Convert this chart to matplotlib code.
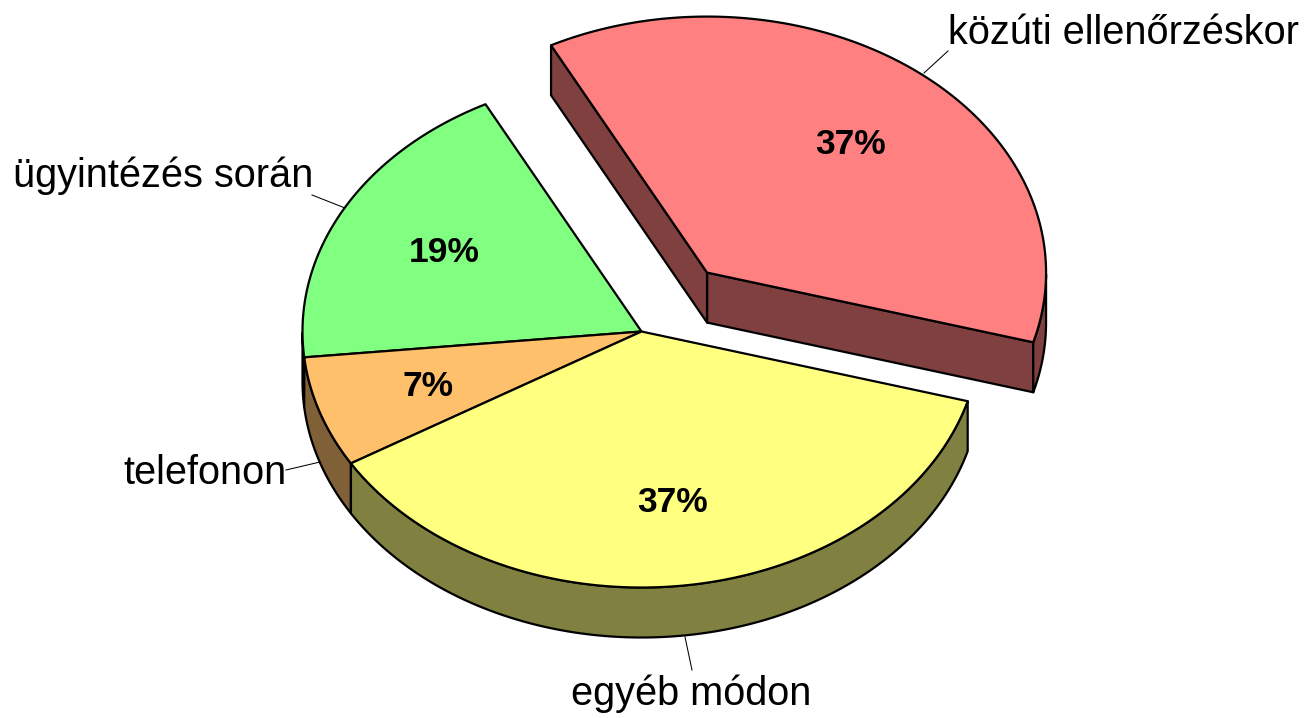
"""
Exploded 3D-look pie chart, drawn as projected polygons
"""
import matplotlib
matplotlib.use("Agg")
import matplotlib.pyplot as plt
import numpy as np

plt.rcParams['font.family'] = ['Liberation Sans', 'DejaVu Sans']

# Data
labels = ['ügyintézés során', 'telefonon', 'egyéb módon', 'közúti ellenőrzéskor']
values = [19, 7, 37, 37]
exploded = [False, False, False, True]
top_colors = ['#80FF80', '#FFC06C', '#FFFF80', '#FF8080']
side_colors = ['#408040', '#806036', '#808040', '#804040']

# Geometry of the pie in pixels
cx, cy = 641.5, 331.5
rx, ry = 339, 256
depth = 50
start = 117.4
explode_x, explode_y = 0.306, 0.297

# label text, percent text and leader line positions (pixels)
label_pos = [(163.5, 176), (205, 473), (691.5, 694), (1123, 33)]
pct_pos = [(444, 253), (428, 387), (672, 503), (851, 144)]
leaders = [((312, 195), (345, 208)), ((286, 470), (320, 462)),
           ((685, 637), (692, 670)), ((924, 73), (948, 51))]

fig = plt.figure(figsize=(13.06, 7.18), dpi=100)
ax = fig.add_axes([0, 0, 1, 1])
ax.set_xlim(0, 1306)
ax.set_ylim(718, 0)
ax.axis('off')


def pt(t, ox, oy):
    return cx + ox + rx * np.cos(t), cy + oy - ry * np.sin(t)


def poly(xs, ys, color, z):
    ax.fill(xs, ys, facecolor=color, edgecolor='black', lw=1.6,
            joinstyle='round', zorder=z)


angle = start
for i, v in enumerate(values):
    sweep = v / sum(values) * 360
    t0, t1 = np.radians(angle), np.radians(angle + sweep)
    mid = (t0 + t1) / 2
    ox, oy = 0, 0
    if exploded[i]:
        ox = explode_x * rx * np.cos(mid)
        oy = -explode_y * ry * np.sin(mid)
    tt = np.linspace(t0, t1, 200)
    ax_x, ax_y = pt(tt, ox, oy)
    c_x, c_y = cx + ox, cy + oy

    # cut faces, only the exploded slice shows them
    if exploded[i]:
        for t in (t0, t1):
            ex, ey = pt(t, ox, oy)
            poly([c_x, ex, ex, c_x], [c_y, ey, ey + depth, c_y + depth],
                 side_colors[i], 2)

    # outer wall, only the front half of the rim is visible
    front = np.sin(tt) <= 0
    if front.any():
        wx, wy = ax_x[front], ax_y[front]
        poly(np.r_[wx, wx[::-1]], np.r_[wy, wy[::-1] + depth], side_colors[i], 2)

    # top face
    poly(np.r_[c_x, ax_x], np.r_[c_y, ax_y], top_colors[i], 3)

    ax.plot(*zip(*leaders[i]), color='black', lw=0.75, zorder=1)
    ax.text(*label_pos[i], labels[i], fontsize=28.6, ha='center', va='center',
            color='black')
    ax.text(*pct_pos[i], f"{v}%", fontsize=25.5, fontweight='bold', ha='center',
            va='center', color='black', zorder=5)
    angle += sweep

fig.savefig("out.png", dpi=100)
